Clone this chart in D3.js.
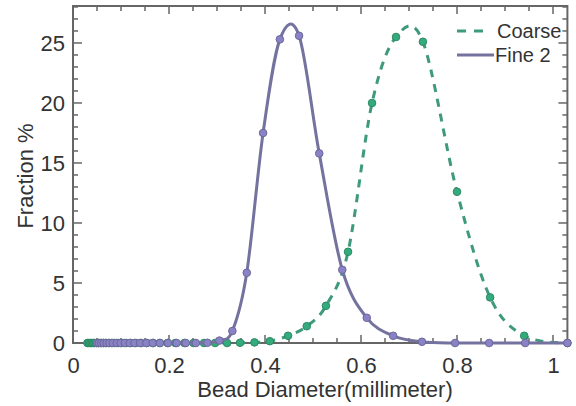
<!DOCTYPE html>
<html><head><meta charset="utf-8">
<script src="https://cdn.jsdelivr.net/npm/d3@7"></script>
<style>body{margin:0;background:#fff}svg{display:block}text{font-family:"Liberation Sans",Arial,sans-serif;fill:#333}</style>
</head><body>
<svg id="c" width="576" height="406"></svg>
<script>
const coarseX = [0.030,0.033,0.036,0.039,0.042,0.045,0.049,0.053,0.058,0.063,0.068,0.074,0.080,0.087,0.094,0.102,0.111,0.120,0.131,0.142,0.154,0.167,0.181,0.197,0.213,0.232,0.251,0.273,0.296,0.321,0.348,0.378,0.410,0.448,0.487,0.527,0.573,0.623,0.673,0.729,0.800,0.869,0.940,1.030];
const coarseY = [0,0,0,0,0,0,0,0,0,0,0,0,0,0,0,0,0,0,0,0,0,0,0,0,0,0,0,0,0,0,0.02,0.05,0.15,0.6,1.4,3.1,7.6,20.0,25.5,25.1,12.6,3.8,0.6,0.0];
const fineX = [0.050,0.054,0.059,0.064,0.070,0.076,0.083,0.091,0.099,0.108,0.118,0.128,0.140,0.153,0.166,0.181,0.198,0.216,0.235,0.256,0.280,0.305,0.332,0.362,0.396,0.431,0.471,0.513,0.561,0.612,0.667,0.727,0.796,0.867,0.942,1.030];
const fineY = [0,0,0,0,0,0,0,0,0,0,0,0,0,0,0,0,0,0,0,0,0.02,0.2,1.0,5.85,17.5,25.3,25.6,15.8,6.1,2.1,0.6,0.1,0,0,0,0];
const seriesNames = ["Coarse","Fine 2"];
const xMajor = [0,0.2,0.4,0.6,0.8,1];
const xTickLabels = ["0","0.2","0.4","0.6","0.8","1"];
const yMajor = [0,5,10,15,20,25];
const yTickLabels = ["0","5","10","15","20","25"];

const svg = d3.select("#c");
const L=73,R=567.4,T=6,B=343;
const x = d3.scaleLinear().domain([0,1.03]).range([L,R]);
const y = d3.scaleLinear().domain([0,28.08]).range([B,T]);
const axisCol="#666";

const xMinor = d3.range(0,1.03,0.05);
const yMinor = d3.range(0,28.01,1);
const g = svg.append("g");
xMinor.forEach(v=>{
  const isMaj = xMajor.some(m=>Math.abs(m-v)<1e-6);
  const l = isMaj?8:5;
  g.append("line").attr("x1",x(v)).attr("x2",x(v)).attr("y1",B).attr("y2",B-l).attr("stroke",axisCol).attr("stroke-width",1.5);
  g.append("line").attr("x1",x(v)).attr("x2",x(v)).attr("y1",T).attr("y2",T+l).attr("stroke",axisCol).attr("stroke-width",1.5);
});
yMinor.forEach(v=>{
  const isMaj = Math.abs(v%5)<1e-6;
  const l = isMaj?9:5;
  g.append("line").attr("y1",y(v)).attr("y2",y(v)).attr("x1",L).attr("x2",L+l).attr("stroke",axisCol).attr("stroke-width",1.5);
  g.append("line").attr("y1",y(v)).attr("y2",y(v)).attr("x1",R).attr("x2",R-l).attr("stroke",axisCol).attr("stroke-width",1.5);
});
g.append("rect").attr("x",L).attr("y",T).attr("width",R-L).attr("height",B-T).attr("fill","none").attr("stroke",axisCol).attr("stroke-width",2);

const xAxis = d3.axisBottom(x).tickValues(xMajor).tickFormat((d,i)=>xTickLabels[i]).tickSize(0).tickPadding(14);
const xa = svg.append("g").attr("transform",`translate(0,${B})`).call(xAxis);
xa.select(".domain").remove();
xa.selectAll("text").style("font-size","22px").attr("fill","#333");
const yAxis = d3.axisLeft(y).tickValues(yMajor).tickFormat((d,i)=>yTickLabels[i]).tickSize(0).tickPadding(8);
const ya = svg.append("g").attr("transform",`translate(${L},0)`).call(yAxis);
ya.select(".domain").remove();
ya.selectAll("text").style("font-size","22px").attr("fill","#333");

svg.append("text").attr("x",325).attr("y",397).attr("text-anchor","middle").style("font-size","22px").text("Bead Diameter(millimeter)");
svg.append("text").attr("transform",`translate(33,176) rotate(-90)`).attr("text-anchor","middle").style("font-size","22px").text("Fraction %");

const line = d3.line().x(d=>x(d[0])).y(d=>y(d[1])).curve(d3.curveCardinal.tension(0));
const coarse = coarseX.map((v,i)=>[v,coarseY[i]]);
const fine = fineX.map((v,i)=>[v,fineY[i]]);
const cCol="#3f9a7c", fCol="#74729e";
svg.append("path").datum(coarse).attr("d",line).attr("fill","none").attr("stroke",cCol).attr("stroke-width",3).attr("stroke-dasharray","8,7");
svg.append("g").selectAll("circle").data(coarse).join("circle").attr("cx",d=>x(d[0])).attr("cy",d=>y(d[1])).attr("r",3.8).attr("fill","#33ab7c").attr("stroke","#2d8864").attr("stroke-width",1);
svg.append("path").datum(fine).attr("d",line).attr("fill","none").attr("stroke",fCol).attr("stroke-width",3);
svg.append("g").selectAll("circle").data(fine).join("circle").attr("cx",d=>x(d[0])).attr("cy",d=>y(d[1])).attr("r",3.8).attr("fill","#8a82c6").attr("stroke","#6c6898").attr("stroke-width",1);

const lg = svg.append("g");
lg.append("line").attr("x1",457).attr("x2",488).attr("y1",31).attr("y2",31).attr("stroke",cCol).attr("stroke-width",3).attr("stroke-dasharray","9,8");
lg.append("text").attr("x",497).attr("y",38).style("font-size","20px").text(seriesNames[0]);
lg.append("line").attr("x1",457).attr("x2",494).attr("y1",55).attr("y2",55).attr("stroke",fCol).attr("stroke-width",3);
lg.append("text").attr("x",495).attr("y",62).style("font-size","20px").text(seriesNames[1]);
</script>
</body></html>
